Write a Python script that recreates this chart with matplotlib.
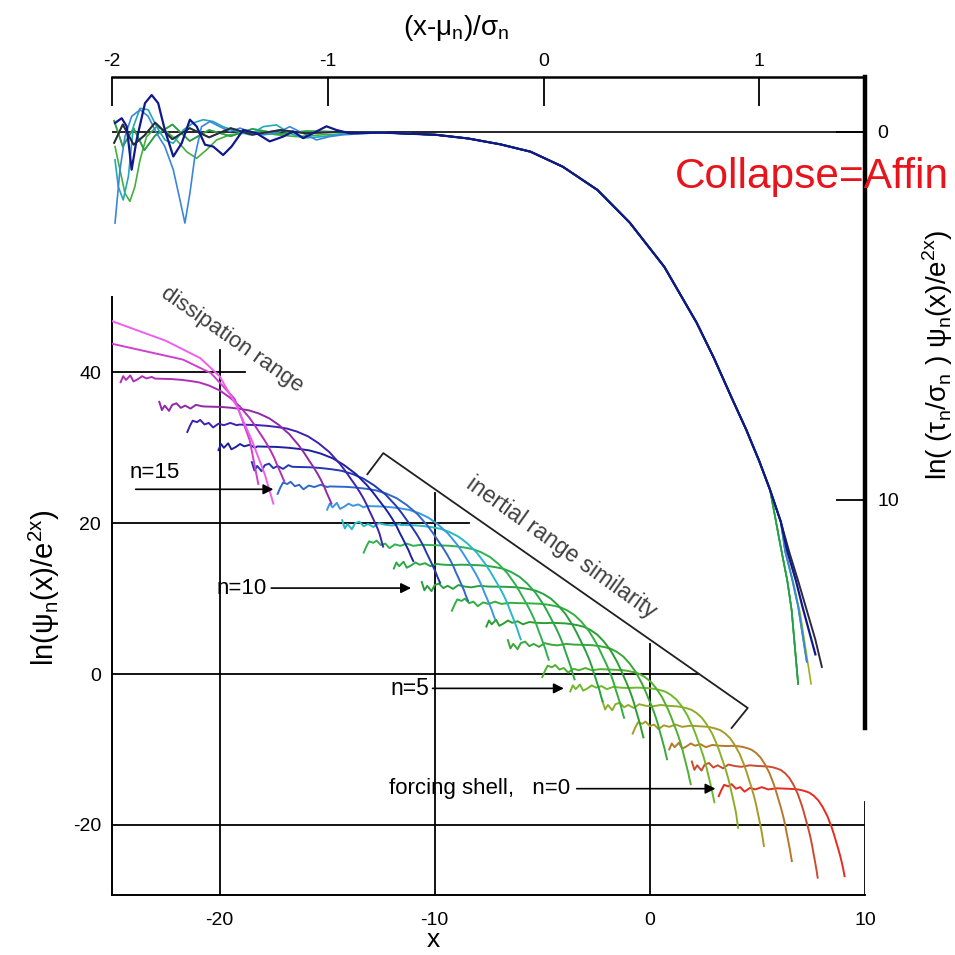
import numpy as np
import matplotlib.pyplot as plt

plt.rcParams['font.family'] = ['Liberation Sans', 'DejaVu Sans']
plt.rcParams['axes.unicode_minus'] = False

# collapsed shape seen in the upper panel: u = (x - mu_n)/sigma_n, g = depth below plateau
prof_u = [-2.0, -1.0, -0.75, -0.5, -0.35, -0.2, -0.06, 0.09, 0.25, 0.40, 0.56, 0.71, 0.79,
          0.87, 0.94, 1.0, 1.05, 1.10, 1.14, 1.18, 1.22, 1.26, 1.29, 1.34]
prof_g = [0.0, 0.0, 0.02, 0.08, 0.18, 0.34, 0.54, 0.95, 1.58, 2.47, 3.67, 5.19, 6.15,
          7.2, 8.1, 8.95, 9.73, 10.6, 11.44, 12.2, 13.0, 13.8, 14.54, 15.6]

# lower panel, one entry per shell n = 0..20
shell_level = [-15.2, -12.2, -9.5, -6.9, -4.2, -1.8, 0.6, 3.9, 6.8, 9.4, 11.6,
               14.5, 17.1, 19.8, 22.3, 24.9, 27.5, 30.2, 33.1, 35.5, 39.2]
shell_start = [3.2, 1.95, 0.9, -0.8, -2.2, -3.7, -5.0, -6.6, -7.6, -9.2, -10.6,
               -11.9, -13.3, -14.3, -15.0, -17.3, -18.5, -20.05, -21.5, -22.8, -24.6]
shell_end_x = [9.05, 7.8, 6.6, 5.3, 4.1, 3.0, 1.9, 0.8, -0.3, -1.2, -2.2,
               -3.5, -4.7, -6.0, -7.2, -8.45, -9.75, -11.0, -12.4, -14.8, -17.0]
shell_end_y = [-26.8, -27.0, -24.8, -22.8, -20.4, -17.0, -14.6, -11.3, -8.4, -5.8, -3.6,
               -0.7, 1.9, 4.6, 7.3, 9.7, 12.1, 15.0, 16.9, 22.6, 25.6]
shell_sigma = [1.35, 1.25, 1.35, 1.45, 1.55, 1.65, 1.75, 1.9, 2.0, 2.15, 2.25,
               2.4, 2.55, 2.7, 2.9, 3.1, 3.3, 3.5, 3.2, 3.0, 3.0]
shell_color = ['#e82a20', '#cc4a30', '#b8782a', '#a89a28', '#8cae2a', '#70b82a', '#50b030',
               '#3aa838', '#2a9e30', '#30b040', '#28a040', '#2aa848', '#30b050', '#28b8c8',
               '#3a98e0', '#3068c8', '#2238b0', '#1c20a0', '#4020b0', '#9028a8', '#b030b8']

# the two highest shells only show their falling part
pink_a_x = [-25.0, -22.5, -20.9, -20.0, -19.2, -18.5, -17.9, -17.5]
pink_a_y = [46.8, 44.2, 41.9, 39.5, 35.5, 31.0, 26.5, 22.6]
pink_b_x = [-25.0, -21.7, -20.4, -19.3, -18.6, -18.2]
pink_b_y = [43.8, 41.7, 39.9, 36.5, 31.0, 25.2]

# ripples at the start of each plateau (offset along x, offset in y)
ripple_dx = [0, 0.12, 0.25, 0.45, 0.6, 0.8, 1.0, 1.2, 1.45, 1.7, 2.0, 2.3, 2.7, 3.1]
ripple_a = [-1.0, -0.2, 0.5, 0.3, 0.6, 0.0, 0.2, -0.4, 0.1, -0.1, 0.2, -0.1, 0.05, 0]
ripple_b = [0.6, -0.5, 0.1, -0.6, 0.2, 0.4, -0.2, 0.1, -0.3, 0.2, 0.0, -0.1, 0.1, 0]
ripple_c = [-0.5, 0.3, -0.2, 0.4, -0.4, -0.1, 0.3, 0.0, 0.2, -0.2, 0.1, 0.0, -0.05, 0]

# upper panel: noisy left ends of the collapsed curves, (u, g) pairs
top_navy_u = [-1.986, -1.955, -1.932, -1.909, -1.886, -1.847, -1.816, -1.786, -1.755, -1.716,
              -1.677, -1.639, -1.608, -1.569, -1.531, -1.485, -1.446, -1.392, -1.330, -1.269,
              -1.207, -1.161, -1.114, -1.052, -1.006, -0.960, -0.898]
top_navy_g = [-0.24, -0.37, -0.15, 1.03, 0.22, -0.78, -1.0, -0.78, -0.05, 0.67,
              0.31, -0.33, -0.15, 0.35, 0.4, 0.63, 0.4, -0.05, 0.04, 0.26,
              0.13, -0.01, 0.17, -0.01, -0.15, -0.05, 0.04]
top_lblue_u = [-1.986, -1.963, -1.940, -1.909, -1.870, -1.832, -1.793, -1.755, -1.716, -1.685,
               -1.662, -1.639, -1.616, -1.585, -1.546, -1.500, -1.454, -1.407, -1.361, -1.299,
               -1.238, -1.176, -1.114, -1.052, -0.991, -0.929]
top_lblue_g = [2.48, 1.03, 0.13, -0.42, -0.60, -0.42, 0.04, 0.40, 1.03, 1.85,
               2.48, 1.67, 0.67, -0.14, -0.28, -0.14, -0.01, -0.10, -0.01, 0.08,
               0.04, -0.14, 0.04, 0.22, 0.13, 0.08]
top_cyan_u = [-1.986, -1.971, -1.948, -1.924, -1.901, -1.870, -1.832, -1.793, -1.755, -1.716,
              -1.670, -1.624, -1.577, -1.531, -1.485, -1.423, -1.361, -1.299, -1.238, -1.176,
              -1.114, -1.022, -0.929]
top_cyan_g = [0.76, 1.49, 1.85, 1.21, -0.14, -0.64, -0.60, -0.14, 0.22, 0.31,
              -0.05, -0.24, -0.33, -0.28, -0.14, -0.01, 0.08, -0.14, -0.19, 0.04,
              0.17, 0.13, 0.05]
top_green_u = [-1.986, -1.963, -1.940, -1.917, -1.894, -1.870, -1.840, -1.793, -1.748, -1.701,
               -1.654, -1.608, -1.562, -1.515, -1.454, -1.392, -1.330, -1.238, -1.145, -1.022,
               -0.898]
top_green_g = [0.40, 1.03, 1.67, 1.89, 1.49, 0.76, 0.13, -0.14, -0.01, 0.22,
               0.54, 0.72, 0.49, 0.22, 0.08, 0.04, -0.01, 0.08, 0.13, 0.08, 0.05]
top_quiet_u = [-1.99, -1.95, -1.9, -1.85, -1.8, -1.72, -1.64, -1.55, -1.45, -1.35, -1.22, -1.1, -0.95]
top_quiet_g = [0.3, -0.2, 0.35, 0.1, -0.25, 0.2, -0.1, 0.15, -0.1, 0.08, -0.05, 0.04, 0.0]
top_quiet2_g = [-0.3, 0.4, -0.1, 0.5, 0.1, -0.2, 0.25, -0.05, 0.12, -0.08, 0.06, -0.02, 0.0]
# last stretch of each upper-panel curve (u, g)
tail_dark = [(1.14, 11.44), (1.18, 12.2), (1.22, 13.0), (1.26, 13.8), (1.29, 14.54)]
tail_navy = [(1.13, 11.4), (1.17, 12.2), (1.20, 12.9), (1.26, 14.2)]
tail_green = [(1.10, 11.3), (1.13, 12.2), (1.15, 13.0), (1.18, 15.0)]
tail_ygreen = [(1.12, 11.4), (1.16, 12.3), (1.19, 13.1), (1.24, 15.0)]
tail_blue = [(1.12, 11.4), (1.15, 12.1), (1.18, 12.9), (1.22, 14.4)]


def shell_curve(n):
    lev = shell_level[n]
    sig = shell_sigma[n]
    depth = lev - shell_end_y[n]
    u_end = np.interp(depth, prof_g[1:], prof_u[1:])
    mu = shell_end_x[n] - sig * u_end
    knee = mu - 0.75 * sig
    rip = [ripple_a, ripple_b, ripple_c][n % 3]
    xs, ys = [], []
    for dx, dy in zip(ripple_dx, rip):
        if shell_start[n] + dx < knee:
            xs.append(shell_start[n] + dx)
            ys.append(lev + dy)
    for u, g in zip(prof_u, prof_g):
        if -0.75 <= u < u_end and mu + sig * u > shell_start[n]:
            xs.append(mu + sig * u)
            ys.append(lev - g)
    xs.append(shell_end_x[n])
    ys.append(shell_end_y[n])
    return xs, ys


def top_curve(wu, wg, tail):
    us = list(wu)
    gs = list(wg)
    for u, g in zip(prof_u, prof_g):
        if wu[-1] < u < tail[0][0]:
            us.append(u)
            gs.append(g)
    for u, g in tail:
        us.append(u)
        gs.append(g)
    return us, gs


fig = plt.figure(figsize=(9.55, 9.55), dpi=100)
fig.patch.set_facecolor('white')

# ---- lower panel ----
ax = fig.add_axes([112/955, 60/955, 753/955, 598/955])
ax.set_xlim(-25, 10)
ax.set_ylim(-29.3, 50)
for s in ['top', 'right']:
    ax.spines[s].set_visible(False)
for s in ['left', 'bottom']:
    ax.spines[s].set_linewidth(1.4)
ax.set_xticks([-20, -10, 0, 10])
ax.set_yticks([-20, 0, 20, 40])
ax.tick_params(length=0, labelsize=14, pad=12)
ax.tick_params(axis='y', pad=8)

# staircase of reference lines
ax.plot([-20, -20], [-29.3, 43], color='k', lw=1.3)
ax.plot([-25, -18.8], [40, 40], color='k', lw=1.3)
ax.plot([-10, -10], [-29.3, 24], color='k', lw=1.3)
ax.plot([-25, -8.4], [20, 20], color='k', lw=1.3)
ax.plot([0, 0], [-29.3, 4], color='k', lw=1.3)
ax.plot([-25, 2.3], [0, 0], color='k', lw=1.3)
ax.plot([10, 10], [-29.3, -17], color='k', lw=1.3)
ax.plot([-25, 10], [-20, -20], color='k', lw=1.3)

for n in range(len(shell_level)):
    xs, ys = shell_curve(n)
    ax.plot(xs, ys, color=shell_color[n], lw=1.4, zorder=3)
ax.plot(pink_b_x, pink_b_y, color='#d040d0', lw=1.4, zorder=3)
ax.plot(pink_a_x, pink_a_y, color='#ec60ec', lw=1.4, zorder=3)

# bracket over the inertial range
ax.plot([-13.13, -12.39, 4.55, 3.8], [26.5, 29.3, -4.5, -7.15], color='#202020', lw=1.3)
ax.text(-4.1, 16.7, 'inertial range similarity', rotation=-35.5, rotation_mode='anchor',
        ha='center', va='center', fontsize=16.5, color='#404040')
ax.text(-19.4, 44.4, 'dissipation range', rotation=-35, rotation_mode='anchor',
        ha='center', va='center', fontsize=16, color='#404040')

arrow = dict(arrowstyle='-|>', color='k', lw=1.2, mutation_scale=15, shrinkA=0, shrinkB=0)
ax.annotate('', xy=(-17.5, 24.5), xytext=(-23.9, 24.5), arrowprops=arrow)
ax.text(-24.2, 25.4, 'n=15', fontsize=16, ha='left', va='bottom')
ax.annotate('', xy=(-11.1, 11.4), xytext=(-17.6, 11.4), arrowprops=arrow)
ax.text(-17.8, 11.4, 'n=10', fontsize=16, ha='right', va='center')
ax.annotate('', xy=(-4.0, -1.9), xytext=(-10.1, -1.9), arrowprops=arrow)
ax.text(-10.25, -1.9, 'n=5', fontsize=16.5, ha='right', va='center')
ax.annotate('', xy=(3.05, -15.2), xytext=(-3.4, -15.2), arrowprops=arrow)
ax.text(-3.7, -15.2, 'forcing shell,   n=0', fontsize=16, ha='right', va='center')

# ---- upper panel (collapsed curves) ----
at = fig.add_axes([112/955, 227/955, 753/955, 651/955])
at.patch.set_visible(False)
at.set_xlim(-2, 1.49)
at.set_ylim(16.2, -1.49)
at.spines['left'].set_visible(False)
at.spines['bottom'].set_visible(False)
at.spines['top'].set_linewidth(1.8)
at.spines['right'].set_linewidth(3.2)
at.xaxis.tick_top()
at.yaxis.tick_right()
at.set_xticks([-2, -1, 0, 1])
at.set_yticks([0, 10])
at.tick_params(axis='x', direction='in', length=21, width=1.3, labelsize=14, pad=5)
at.tick_params(axis='y', direction='in', length=21, width=1.3, labelsize=14, pad=9)
at.axhline(0, color='k', lw=1.2)

curves = [
    (top_quiet_u, top_quiet2_g, tail_ygreen, '#98b020', 1.2),
    (top_quiet_u, top_quiet_g, tail_green, '#2f9a2a', 1.2),
    (top_green_u, top_green_g, tail_green, '#44b03a', 1.2),
    (top_quiet_u, top_quiet2_g, tail_green, '#22a050', 1.2),
    (top_cyan_u, top_cyan_g, tail_blue, '#22a8b8', 1.2),
    (top_lblue_u, top_lblue_g, tail_blue, '#3a86d8', 1.2),
    (top_quiet_u, top_quiet_g, tail_dark, '#2a2a40', 1.4),
    (top_navy_u, top_navy_g, tail_navy, '#10188a', 1.6),
]
for wu, wg, tail, col, lw in curves:
    us, gs = top_curve(wu, wg, tail)
    at.plot(us, gs, color=col, lw=lw)

fig.text(456/955, (955-28)/955, '(x-μ$_\\mathregular{n}$)/σ$_\\mathregular{n}$',
         ha='center', va='center', fontsize=20)
fig.text(44/955, (955-588)/955, 'ln(ψ$_\\mathregular{n}$(x)/e$^\\mathregular{2x}$)',
         rotation=90, ha='center', va='center', fontsize=21)
fig.text(938/955, (955-355)/955,
         'ln( (τ$_\\mathregular{n}$/σ$_\\mathregular{n}$ ) ψ$_\\mathregular{n}$(x)/e$^\\mathregular{2x}$)',
         rotation=90, ha='center', va='center', fontsize=20)
fig.text(433/955, (955-940)/955, 'x', ha='center', va='center', fontsize=19)
fig.text(675/955, (955-177)/955, 'Collapse=Affin', ha='left', va='center',
         fontsize=30.5, color='#e8141c', zorder=0)

fig.savefig('out.png', dpi=100)
